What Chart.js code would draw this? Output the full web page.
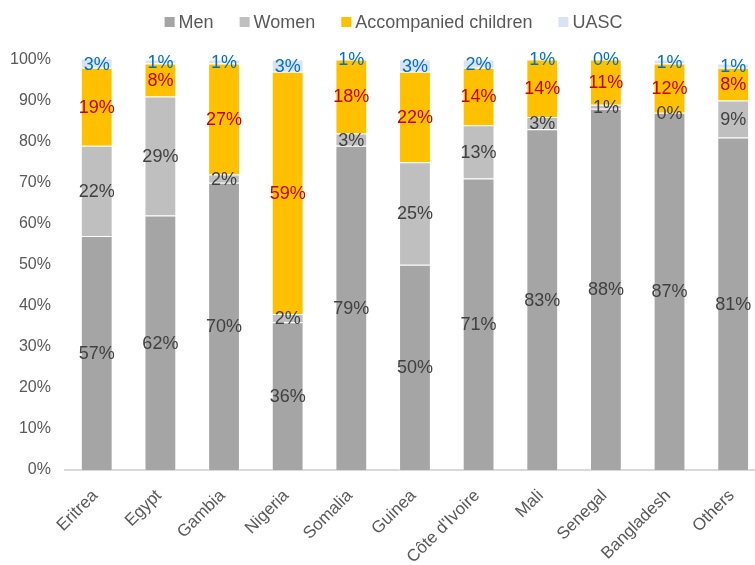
<!DOCTYPE html>
<html>
<head>
<meta charset="utf-8">
<script src="https://cdn.jsdelivr.net/npm/chart.js@4/dist/chart.umd.min.js"></script>
<style>
  html, body { margin: 0; padding: 0; background: #fff; overflow: hidden; }
  #wrap { width: 767px; height: 565px; }
</style>
</head>
<body>
<div id="wrap"><canvas id="barChart" width="767" height="565"></canvas></div>
<script>
const countries = ["Eritrea", "Egypt", "Gambia", "Nigeria", "Somalia", "Guinea",
    "Côte d'Ivoire", "Mali", "Senegal", "Bangladesh", "Others"];
const men = [57, 62, 70, 36, 79, 50, 71, 83, 88, 87, 81];
const women = [22, 29, 2, 2, 3, 25, 13, 3, 1, 0, 9];
const children = [19, 8, 27, 59, 18, 22, 14, 14, 11, 12, 8];
const uasc = [3, 1, 1, 3, 1, 3, 2, 1, 0, 1, 1];
const yTicks = [0, 10, 20, 30, 40, 50, 60, 70, 80, 90, 100];

const font = "'Liberation Sans', Arial, sans-serif";

// writes the value in the middle of every segment
const segmentLabels = {
    id: "segmentLabels",
    afterDatasetsDraw(chart) {
        const ctx = chart.ctx;
        const area = chart.chartArea;
        ctx.save();
        ctx.font = "18px " + font;
        ctx.textAlign = "center";
        ctx.textBaseline = "middle";
        chart.data.datasets.forEach(function (ds, i) {
            const meta = chart.getDatasetMeta(i);
            meta.data.forEach(function (bar, j) {
                const top = Math.max(bar.y, area.top);
                const mid = (top + bar.base) / 2;
                ctx.fillStyle = ds.labelColor;
                ctx.fillText(ds.data[j] + "%", bar.x, mid + 1);
            });
        });
        ctx.restore();
    },
};

// slanted country names under the axis, placed from the x scale
const countryLabels = {
    id: "countryLabels",
    afterDraw(chart) {
        const ctx = chart.ctx;
        const xs = chart.scales.x;
        ctx.save();
        ctx.font = "17px " + font;
        ctx.fillStyle = "#595959";
        ctx.textAlign = "right";
        ctx.textBaseline = "middle";
        chart.data.labels.forEach(function (name, i) {
            ctx.save();
            ctx.translate(xs.getPixelForTick(i) - 1.5, chart.chartArea.bottom + 23);
            ctx.rotate(-Math.PI / 4);
            ctx.fillText(name, 0, 0);
            ctx.restore();
        });
        ctx.restore();
    },
};

// legend row: small square, short gap, then the name
const topLegend = {
    id: "topLegend",
    afterDraw(chart) {
        const ctx = chart.ctx;
        const box = 10, gap = 4, spacing = 26, cy = 22;
        ctx.save();
        ctx.font = "18px " + font;
        ctx.textBaseline = "middle";
        const items = chart.data.datasets.map(function (ds) {
            return { text: ds.label, color: ds.backgroundColor, w: ctx.measureText(ds.label).width };
        });
        let total = items.reduce(function (s, it) { return s + box + gap + it.w; }, 0);
        total += spacing * (items.length - 1);
        let x = 393.5 - total / 2;
        items.forEach(function (it) {
            ctx.fillStyle = it.color;
            ctx.fillRect(x, cy - box / 2, box, box);
            ctx.fillStyle = "#595959";
            ctx.fillText(it.text, x + box + gap, cy + 1);
            x += box + gap + it.w + spacing;
        });
        ctx.restore();
    },
};

function series(label, data, color, labelColor) {
    return {
        label: label,
        data: data,
        backgroundColor: color,
        borderColor: "rgba(255,255,255,0.45)",
        borderWidth: 1,
        labelColor: labelColor,
        categoryPercentage: 1.0,
        barPercentage: 0.5,
    };
}

new Chart(document.getElementById("barChart").getContext("2d"), {
    type: "bar",
    data: {
        labels: countries,
        datasets: [
            series("Men", men, "#A5A5A5", "#404040"),
            series("Women", women, "#BFBFBF", "#404040"),
            series("Accompanied children", children, "#FFC000", "#C00000"),
            series("UASC", uasc, "#DAE3F3", "#0070C0"),
        ],
    },
    options: {
        responsive: false,
        animation: false,
        layout: { padding: { left: -4, right: 2, top: 59.5, bottom: 95 } },
        plugins: {
            tooltip: { enabled: false },
            legend: { display: false },
        },
        scales: {
            x: {
                stacked: true,
                grid: { display: false, drawTicks: false },
                border: { display: true, color: "#D9D9D9", width: 2 },
                ticks: { display: false },
            },
            y: {
                stacked: true,
                min: 0,
                max: 100,
                grid: { display: false, drawTicks: false },
                border: { display: false },
                afterBuildTicks: function (axis) {
                    axis.ticks = yTicks.map(function (v) { return { value: v }; });
                },
                ticks: {
                    color: "#595959",
                    font: { family: font, size: 16 },
                    padding: 14,
                    callback: function (v) { return v + "%"; },
                },
            },
        },
    },
    plugins: [segmentLabels, countryLabels, topLegend],
});
</script>
</body>
</html>
